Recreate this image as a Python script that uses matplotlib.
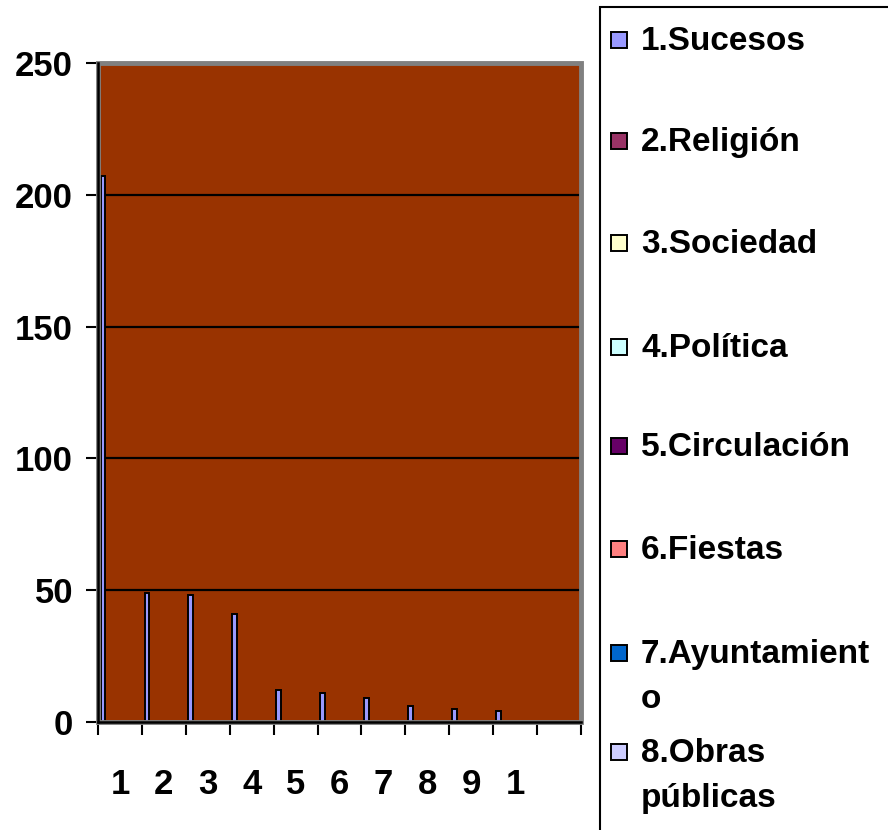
import numpy as np
import matplotlib
matplotlib.use('Agg')
import matplotlib.pyplot as plt
from matplotlib.patches import Rectangle

plt.rcParams['font.family'] = ['Liberation Sans', 'DejaVu Sans']
plt.rcParams['font.weight'] = 'bold'

# datos
categorias = ['1', '2', '3', '4', '5', '6', '7', '8', '9', '1', '']
sucesos = [207, 49, 48, 41, 12, 11, 9, 6, 5, 4, 0]
series = ['1.Sucesos', '2.Religión', '3.Sociedad', '4.Política',
          '5.Circulación', '6.Fiestas', '7.Ayuntamient\no', '8.Obras\npúblicas']
colores = ['#9999FF', '#993366', '#FFFFCC', '#CCFFFF',
           '#660066', '#FF8080', '#0066CC', '#CCCCFF']
yticks = [0, 50, 100, 150, 200, 250]

W, H = 888, 830
fig = plt.figure(figsize=(W / 100, H / 100), dpi=100)
ax = fig.add_axes([98 / W, 1 - 722 / H, (581 - 98) / W, (722 - 63) / H])
ax.set_facecolor('#993300')

n = len(categorias)
x = np.arange(n)
ax.bar(x + 0.06, sucesos, width=0.11, align='edge', color=colores[0],
       edgecolor='black', linewidth=1.4, zorder=3)

ax.set_xlim(0, n)
ax.set_ylim(0, 250)
ax.set_yticks(yticks)
ax.yaxis.grid(True, color='black', linewidth=1.6, zorder=1)
ax.set_axisbelow(True)

ax.set_xticks(np.arange(n + 1))
ax.set_xticklabels([])
ax.set_xticks(x + 0.5, minor=True)
ax.set_xticklabels(categorias, minor=True)
ax.tick_params(axis='x', which='major', direction='out', length=9, width=1.5)
ax.tick_params(axis='x', which='minor', length=0, pad=33, labelsize=25)
ax.tick_params(axis='y', direction='out', length=9, width=1.5, pad=9, labelsize=25)
for lab in ax.get_xticklabels(minor=True) + ax.get_yticklabels():
    lab.set_fontweight('bold')

for s in ['top', 'right']:
    ax.spines[s].set_visible(False)
for s in ['left', 'bottom']:
    ax.spines[s].set_linewidth(1.8)
    ax.spines[s].set_zorder(5)
ax.add_patch(Rectangle((0, 0), 1, 1, transform=ax.transAxes, fill=False,
                       edgecolor='#808080', linewidth=3.5, zorder=4, clip_on=False))

# leyenda manual
fig.patches.append(Rectangle((600 / W, -0.1), 0.6, 1.1 - 7 / H,
                             transform=fig.transFigure, fill=False,
                             edgecolor='black', linewidth=1.5))
ley_y = [40, 141, 243, 347, 446, 549, 653, 752]
for nombre, col, yy in zip(series, colores, ley_y):
    fig.patches.append(Rectangle((611 / W, 1 - (yy + 8) / H), 16 / W, 16 / H,
                                 transform=fig.transFigure, facecolor=col,
                                 edgecolor='black', linewidth=1.4))
    fig.text(641 / W, 1 - (yy - 14) / H, nombre, fontsize=24, fontweight='bold',
             va='top', ha='left', linespacing=1.6)

fig.savefig('out.png', dpi=100)
